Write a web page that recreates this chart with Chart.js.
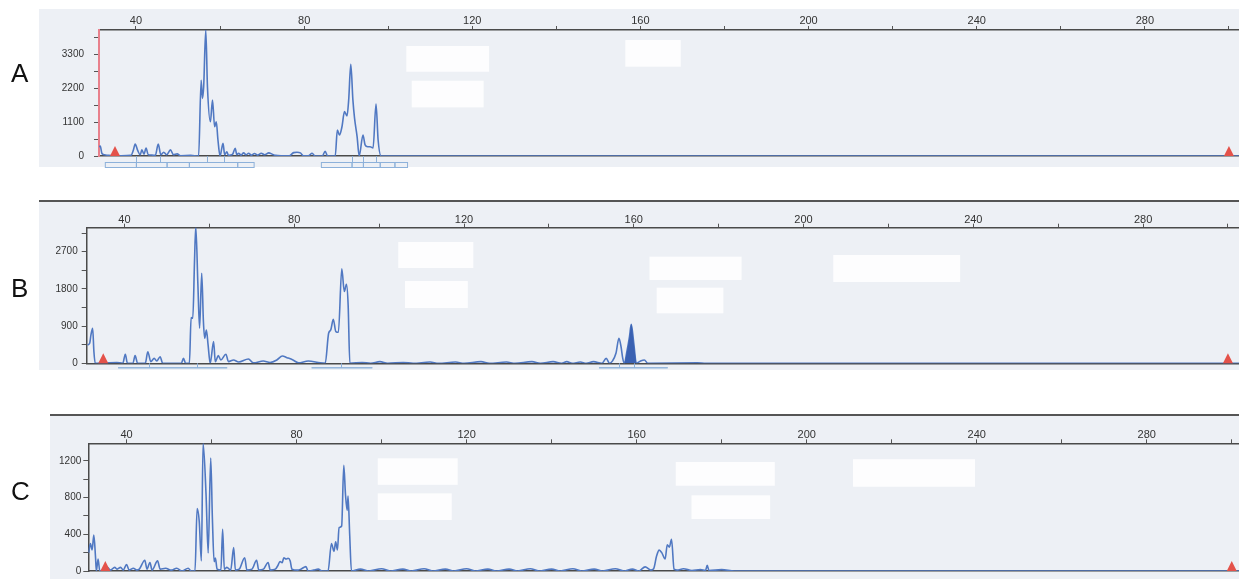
<!DOCTYPE html>
<html>
<head>
<meta charset="utf-8">
<script src="https://cdn.jsdelivr.net/npm/chart.js"></script>
<style>
  body { margin: 0; background: #fff; width: 1239px; height: 579px; overflow: hidden; position: relative;
         font-family: 'Liberation Sans', Arial, sans-serif; }
  .panel { position: absolute; background: #edf0f5; }
  .rule { position: absolute; background: #555; height: 2px; }
  .tag { position: absolute; left: 11px; font-size: 26px; line-height: 26px; color: #111; }
  canvas { position: absolute; left: 0; }
</style>
</head>
<body>
<div class="panel" style="left:39px;top:9px;width:1200px;height:158px"></div>
<div class="panel" style="left:39px;top:202px;width:1200px;height:168px"></div>
<div class="rule" style="left:39px;top:200px;width:1200px"></div>
<div class="panel" style="left:50px;top:416px;width:1189px;height:163px"></div>
<div class="rule" style="left:50px;top:414px;width:1189px"></div>

<canvas id="panelA" width="1239" height="172" style="top:0px"></canvas>
<canvas id="panelB" width="1239" height="180" style="top:195px"></canvas>
<canvas id="panelC" width="1239" height="174" style="top:405px"></canvas>

<div class="tag" style="top:60px">A</div>
<div class="tag" style="top:275px">B</div>
<div class="tag" style="top:478px">C</div>

<script>
// size axis (bp), shared by all three panels
const sizeTicks = [40, 60, 80, 100, 120, 140, 160, 180, 200, 220, 240, 260, 280, 300];
const sizeLabels = [40, 80, 120, 160, 200, 240, 280];

// panel A
const sizesA = [31.2, 31.5, 31.9, 32.5, 33.5, 36.5, 38.8, 39.4, 39.8, 40.4, 41.0, 41.4, 41.9, 42.4, 42.9, 43.8, 44.6, 45.3, 45.9, 46.6,
  47.3, 48.2, 48.9, 49.8, 50.6, 53.0, 54.9, 55.5, 55.8, 56.1, 56.6, 57.0, 57.7, 58.2, 58.7, 59.1, 59.5, 60.0, 60.7, 61.1,
  61.6, 62.0, 62.4, 63.0, 63.6, 64.0, 64.4, 65.0, 65.6, 66.2, 66.8, 67.4, 68.2, 69.0, 69.8, 70.6, 71.6, 72.4, 73.2, 74.5,
  76.5, 77.5, 78.3, 79.1, 79.8, 81.0, 81.9, 82.6, 84.3, 85.0, 85.6, 87.4, 87.9, 88.4, 89.0, 89.6, 90.2, 90.6, 91.1, 91.6,
  92.0, 92.6, 93.1, 94.0, 94.5, 95.1, 95.7, 96.4, 97.1, 97.6, 98.3, 302.4];
const rfuA = [300, 320, 80, 40, 20, 10, 20, 200, 390, 180, 40, 200, 60, 260, 40, 30, 20, 390, 40, 120,
  40, 200, 40, 70, 10, 20, 0, 2460, 1870, 2250, 4090, 2250, 1110, 1820, 950, 1110, 520, 0, 410, 40,
  140, 20, 30, 60, 250, 40, 90, 30, 100, 40, 90, 30, 80, 30, 90, 40, 100, 60, 20, 10,
  10, 110, 120, 100, 10, 10, 90, 0, 0, 150, 0, 0, 840, 680, 950, 1440, 1300, 1820, 2975, 1820,
  1220, 630, 0, 680, 360, 300, 300, 260, 1690, 520, 0, 0];
const rfuTicksA = [0, 550, 1100, 1650, 2200, 2750, 3300, 3850];
const rfuLabelsA = [0, 1100, 2200, 3300];

// panel B
const sizesB = [31.3, 31.8, 32.1, 32.5, 32.8, 33.1, 38.2, 39.6, 40.2, 40.7, 42.0, 42.5, 43.1, 44.9, 45.5, 46.2, 47.0, 47.6, 48.4, 49.0,
  51.5, 53.4, 53.9, 54.4, 55.3, 55.7, 56.1, 56.5, 56.8, 57.3, 57.7, 58.2, 58.6, 58.9, 59.3, 59.7, 60.2, 61.0, 61.4, 62.1,
  62.7, 63.9, 64.5, 65.7, 66.9, 69.2, 70.4, 72.7, 74.3, 75.9, 77.2, 78.3, 79.7, 81.0, 83.3, 86.1, 87.3, 88.1, 88.6, 89.2,
  89.8, 90.4, 91.2, 91.8, 92.3, 92.7, 93.1, 96.0, 98.0, 100.2, 102.0, 105.7, 108.0, 112.0, 114.0, 118.0, 120.0, 124.0, 126.0, 130.0,
  132.0, 136.0, 138.0, 141.0, 143.0, 144.2, 145.5, 147.4, 148.8, 150.5, 152.5, 153.5, 154.3, 155.0, 155.8, 156.5, 157.0, 157.4, 157.8, 158.3,
  159.0, 159.4, 160.0, 160.6, 161.5, 162.5, 163.3, 175.0, 177.0, 302.6];
const rfuB = [444, 484, 686, 847, 280, 0, 20, 0, 220, 0, 0, 185, 0, 0, 280, 40, 120, 55, 160, 0,
  0, 0, 120, 0, 0, 1105, 1090, 2460, 3310, 1900, 850, 2180, 1010, 605, 807, 444, 0, 525, 40, 185,
  80, 220, 40, 80, 30, 105, 10, 55, 20, 80, 178, 137, 80, 10, 55, 10, 0, 726, 807, 1065,
  767, 750, 2284, 1735, 1913, 1412, 0, 20, 0, 40, 0, 20, 0, 30, 0, 30, 0, 40, 0, 30,
  0, 40, 0, 40, 0, 40, 0, 30, 0, 40, 0, 120, 0, 60, 242, 605, 400, 120, 0, 240,
  650, 945, 485, 0, 50, 80, 0, 10, 0, 0];
// highlighted (filled) peak in B
const peakSizesB = [157.8, 158.3, 159.0, 159.4, 160.0, 160.6];
const peakRfuB = [0, 240, 650, 945, 485, 0];
const rfuTicksB = [0, 450, 900, 1350, 1800, 2250, 2700, 3150];
const rfuLabelsB = [0, 900, 1800, 2700];

// panel C
const sizesC = [31.1, 31.5, 31.9, 32.3, 32.7, 32.9, 33.3, 33.7, 34.5, 35.5, 36.2, 37.2, 37.8, 38.6, 39.2, 40.0, 40.6, 41.6, 42.4, 43.0,
  44.3, 44.8, 45.5, 46.0, 47.3, 47.9, 49.2, 50.5, 51.8, 53.0, 54.5, 55.2, 56.1, 56.6, 57.1, 57.6, 58.0, 58.7, 59.2, 59.8,
  60.2, 60.6, 60.9, 61.3, 62.2, 62.6, 63.0, 63.6, 64.5, 65.2, 65.6, 66.5, 67.8, 68.3, 69.5, 70.6, 71.1, 72.2, 73.3, 73.8,
  75.0, 75.6, 76.1, 76.6, 77.0, 77.5, 78.0, 78.5, 78.9, 80.3, 81.0, 82.2, 82.7, 84.0, 85.1, 86.0, 87.4, 88.2, 88.8, 89.2,
  89.6, 90.0, 90.6, 91.1, 91.5, 91.9, 92.1, 92.5, 92.9, 95, 97, 100, 102, 105, 107, 110, 112, 115, 117, 120,
  122, 125, 127, 130, 132, 135, 137, 140, 142, 145, 147, 150, 152, 155, 157, 159, 160.5, 162.0, 163.3, 164.0,
  164.7, 165.3, 165.9, 166.7, 167.2, 167.7, 168.2, 168.8, 169.5, 171, 173, 175, 176.2, 176.6, 177.0, 180, 183, 301.7];
const rfuC = [200, 300, 230, 390, 150, 0, 130, 0, 10, 40, 10, 40, 20, 40, 10, 70, 10, 30, 10, 20,
  117, 20, 93, 10, 110, 20, 30, 10, 30, 0, 30, 0, 0, 680, 540, 110, 1390, 834, 196, 1230,
  560, 100, 140, 20, 10, 455, 20, 40, 10, 255, 10, 20, 145, 10, 20, 117, 10, 20, 93, 10,
  20, 60, 103, 90, 145, 130, 138, 110, 20, 10, 20, 48, 0, 10, 20, 0, 0, 300, 214, 317,
  230, 472, 490, 1150, 834, 660, 817, 386, 0, 20, 0, 25, 0, 20, 0, 25, 0, 20, 0, 25,
  0, 20, 0, 20, 0, 25, 0, 20, 0, 25, 0, 20, 0, 25, 0, 20, 0, 45, 10, 25,
  165, 227, 200, 131, 286, 260, 345, 20, 10, 25, 5, 15, 5, 62, 5, 15, 0, 0];
const rfuTicksC = [0, 200, 400, 600, 800, 1000, 1200];
const rfuLabelsC = [0, 400, 800, 1200];

// size standard markers, bins and allele calls, redacted label boxes [x0, x1, y0, y1]
const markers = [35, 300];
const binsA = [[32.7, 40.1], [40.1, 47.4], [47.4, 52.7], [52.7, 64.2], [64.2, 68.1],
  [84.1, 91.4], [91.4, 94.1], [94.1, 98.1], [98.1, 101.6], [101.6, 104.6]];
const callsA = [40.1, 45.6, 56.9, 61.0, 91.4, 94.1, 97.2];
const binsB = [[38.5, 64.2], [84.1, 98.4], [151.8, 168.0]];
const callsB = [45.8, 57.2, 91.1, 156.6, 160.0];
const boxesA = [[104.3, 124.0, 2735, 3570], [105.6, 122.7, 1580, 2443], [156.4, 169.6, 2898, 3764]];
const boxesB = [[104.5, 122.2, 2306, 2935], [106.1, 120.9, 1338, 1990], [163.7, 185.4, 2016, 2580],
  [165.4, 181.1, 1210, 1830], [207.0, 236.9, 1967, 2620]];
const boxesC = [[99.1, 117.9, 938, 1227], [99.1, 116.5, 555, 845], [169.2, 192.5, 928, 1186],
  [172.9, 191.4, 566, 824], [210.9, 239.6, 917, 1217]];

const toPoints = (xs, ys) => xs.map((x, i) => ({ x: x, y: ys[i] }));

const gelPlugin = {
  id: 'gel',
  afterDatasetsDraw(chart, args, o) {
    const { ctx, chartArea: a, scales: { x, y } } = chart;
    ctx.save();
    // white label boxes
    ctx.fillStyle = '#fdfdfe';
    (o.boxes || []).forEach(b => {
      const l = x.getPixelForValue(b[0]), r = x.getPixelForValue(b[1]);
      const t = y.getPixelForValue(b[3]), btm = y.getPixelForValue(b[2]);
      ctx.fillRect(l, t, r - l, btm - t);
    });
    // bins under the baseline
    ctx.strokeStyle = '#8db1da';
    ctx.lineWidth = 1;
    (o.bins || []).forEach(b => {
      const l = x.getPixelForValue(b[0]), r = x.getPixelForValue(b[1]);
      ctx.strokeRect(l, a.bottom + o.binGap, r - l, o.binH);
    });
    (o.calls || []).forEach(c => {
      const px = Math.round(x.getPixelForValue(c)) + 0.5;
      ctx.beginPath();
      ctx.moveTo(px, a.bottom);
      ctx.lineTo(px, a.bottom + o.binGap);
      ctx.stroke();
    });
    // size standard triangles
    ctx.fillStyle = '#e4524a';
    markers.forEach(m => {
      const px = x.getPixelForValue(m);
      ctx.beginPath();
      ctx.moveTo(px - 5, a.bottom);
      ctx.lineTo(px + 5, a.bottom);
      ctx.lineTo(px, a.bottom - 10);
      ctx.closePath();
      ctx.fill();
    });
    ctx.restore();
  }
};

function makePanel(id, p) {
  const datasets = [];
  if (p.peak) {
    datasets.push({
      data: p.peak, fill: 'origin', backgroundColor: '#3a61b2', borderWidth: 0,
      pointRadius: 0, cubicInterpolationMode: 'monotone'
    });
  }
  datasets.push({
    data: p.trace, borderColor: '#5078c2', borderWidth: 1.6, pointRadius: 0,
    fill: false, cubicInterpolationMode: 'monotone'
  });

  new Chart(document.getElementById(id), {
    type: 'line',
    data: { datasets: datasets },
    options: {
      responsive: false,
      animation: false,
      devicePixelRatio: 1,
      layout: { padding: { left: 0, right: 0, top: 0, bottom: p.padBottom } },
      plugins: {
        legend: { display: false },
        tooltip: { enabled: false },
        gel: { boxes: p.boxes, bins: p.bins, calls: p.calls, binGap: p.binGap, binH: p.binH }
      },
      scales: {
        x: {
          type: 'linear', position: 'top', min: p.xMin, max: p.xMax,
          afterFit: s => { s.height = p.top; },
          afterBuildTicks: s => { s.ticks = sizeTicks.map(v => ({ value: v })); },
          grid: { drawOnChartArea: false, tickLength: 4, tickColor: '#555' },
          border: { color: '#4a4a4a', width: 1.5 },
          ticks: {
            autoSkip: false, maxRotation: 0, padding: p.xPad, color: '#333',
            font: { size: 11, family: "'Liberation Sans', Arial, sans-serif" },
            callback: v => sizeLabels.includes(v) ? String(v) : ''
          }
        },
        x2: {
          type: 'linear', position: 'bottom', min: p.xMin, max: p.xMax,
          afterFit: s => { s.height = 0; },
          grid: { display: false },
          ticks: { display: false },
          border: { color: '#4a4a4a', width: 1.5 }
        },
        y: {
          type: 'linear', min: 0, max: p.yMax,
          afterFit: s => { s.width = p.left; },
          afterBuildTicks: s => { s.ticks = p.yTicks.map(v => ({ value: v })); },
          grid: { drawOnChartArea: false, tickLength: 5, tickColor: '#555' },
          border: { color: p.axisColor, width: p.axisWidth },
          ticks: {
            autoSkip: false, padding: p.yPad, color: '#333',
            font: { size: 10, family: "'Liberation Sans', Arial, sans-serif" },
            callback: v => p.yLabels.includes(v) ? String(v) : ''
          }
        }
      }
    },
    plugins: [gelPlugin]
  });
}

makePanel('panelA', {
  trace: toPoints(sizesA, rfuA), xMin: 31.2, xMax: 302.4, yMax: 4090,
  yTicks: rfuTicksA, yLabels: rfuLabelsA, left: 99, top: 30, padBottom: 16,
  axisColor: '#e8808c', axisWidth: 2, xPad: -2, yPad: 10,
  boxes: boxesA, bins: binsA, calls: callsA, binGap: 6.5, binH: 5
});
makePanel('panelB', {
  trace: toPoints(sizesB, rfuB), peak: toPoints(peakSizesB, peakRfuB), xMin: 31.1, xMax: 302.6, yMax: 3280,
  yTicks: rfuTicksB, yLabels: rfuLabelsB, left: 86.7, top: 32.7, padBottom: 11.7,
  axisColor: '#4a4a4a', axisWidth: 1.5, xPad: -3, yPad: 4,
  boxes: boxesB, bins: binsB, calls: callsB, binGap: 4.5, binH: 0
});
makePanel('panelC', {
  trace: toPoints(sizesC, rfuC), xMin: 31.0, xMax: 301.7, yMax: 1390,
  yTicks: rfuTicksC, yLabels: rfuLabelsC, left: 88.3, top: 38.3, padBottom: 1.3,
  axisColor: '#4a4a4a', axisWidth: 1.5, xPad: -2, yPad: 2,
  boxes: boxesC, bins: [], calls: [], binGap: 4, binH: 0
});
</script>
</body>
</html>
